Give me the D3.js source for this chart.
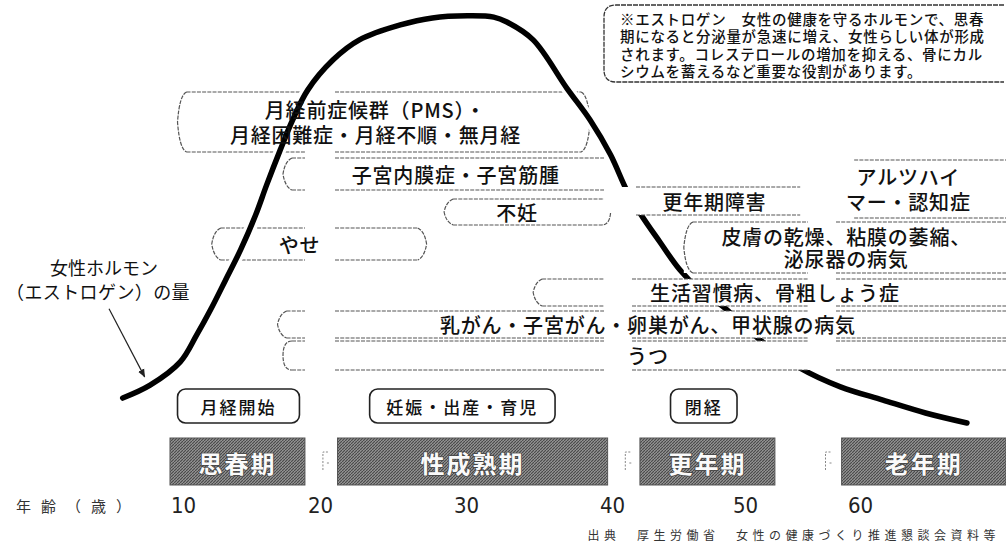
<!DOCTYPE html>
<html>
<head>
<meta charset="utf-8">
<script src="https://cdn.jsdelivr.net/npm/d3@7"></script>
<style>
  body { margin: 0; background: #fff; }
  svg { display: block; font-family: "Noto Sans CJK JP", sans-serif; }
</style>
</head>
<body>
<div id="chart"></div>
<script>
// female hormone (estrogen) level across a woman's life, with related health issues

const ageTicks = [10, 20, 30, 40, 50, 60];

// hormone curve (age, relative level 0-100)
const hormoneAge   = [5.6, 7.6, 9.8, 11.0, 12.0, 13.1, 14.2, 15.3, 16.1, 17.1, 18.0, 19.1, 20.9, 22.7, 25.5, 27.7, 30.1, 31.9, 32.8, 34.6, 36.9, 38.5, 39.9, 41.1, 42.1, 43.6, 45.1, 46.6, 48.4, 51.3, 54.8, 58.3, 62.0, 65.7, 69.3];
const hormoneLevel = [7.7, 10.8, 16.4, 22.9, 28.9, 36.1, 43.4, 51.8, 59.0, 67.5, 74.7, 81.9, 89.2, 94.0, 97.6, 99.3, 99.8, 99.5, 98.3, 94.0, 82.4, 74.7, 66.3, 57.8, 52.3, 45.3, 38.6, 33.7, 29.6, 21.7, 14.9, 10.4, 7.2, 4.1, 1.7];

// life stages
const phaseNames = ['思春期', '性成熟期', '更年期', '老年期'];
const phaseFrom  = [9.05, 21.2, 42.1, 58.4];
const phaseTo    = [18.9, 39.7, 52.6, 72.7];
const phaseGaps  = [20.2, 41.0, 57.0];

// life events
const eventNames = ['月経開始', '妊娠・出産・育児', '閉経'];
const eventFrom  = [9.6, 23.4, 44.4];
const eventTo    = [18.5, 36.1, 49.4];

// health issues by age span
const issueLines = [
  ['月経前症候群（PMS）・', '月経困難症・月経不順・無月経'],
  ['子宮内膜症・子宮筋腫'],
  ['不妊'],
  ['やせ'],
  ['更年期障害'],
  ['アルツハイ', 'マー・認知症'],
  ['皮膚の乾燥、粘膜の萎縮、', '泌尿器の病気'],
  ['生活習慣病、骨粗しょう症'],
  ['乳がん・子宮がん・卵巣がん、甲状腺の病気'],
  ['うつ']
];
const issueFrom     = [9.6, 17.3, 28.5, 12.1, 40.6, 58.1, 45.4, 34.6, 16.9, 17.3];
const issueTo       = [38.5, 39.7, 39.9, 27.3, 54.8, 72.7, 72.7, 72.7, 72.7, 72.7];
const issueLabelAge = [23.8, 29.3, 33.5, 18.5, 47.7, 64.2, 58.8, 52.6, 42.7, 42.7];

const noteLines = [
  '※エストロゲン　女性の健康を守るホルモンで、思春',
  '期になると分泌量が急速に増え、女性らしい体が形成',
  'されます。コレステロールの増加を抑える、骨にカル',
  'シウムを蓄えるなど重要な役割があります。'
];
const curveLabel = ['女性ホルモン', '（エストロゲン）の量'];
const axisTitle = '年齢（歳）';
const sourceText = '出典　厚生労働省　女性の健康づくり推進懇談会資料等';

// layout
const W = 1006, H = 545;
const issueRows = [[92, 152], [158, 190], [199, 225], [228, 260], [187, 215], [160, 218], [222, 273], [279, 306], [311, 338], [341, 370]];
const issueEnds = [['angle', 'angle'], ['angle', 'open'], ['angle', 'hook'], ['angle', 'angle'], ['open', 'open'], ['open', 'open'], ['angle', 'open'], ['angle', 'open'], ['angle', 'open'], ['round', 'open']];
const issueOpaque = [false, false, false, false, true, true, true, true, true, true];
const columnGaps = [[305, 335], [604, 632], [808, 836]];
const LINE = '#555';

const x = d3.scaleLinear()
  .domain([0, 10, 20, 30, 40, 50, 60, 80])
  .range([46, 183, 320, 466, 612, 745, 860, 1090]);
const y = d3.scaleLinear().domain([0, 100]).range([430, 15]);

const svg = d3.select('#chart').append('svg')
  .attr('width', W)
  .attr('height', H);

const defs = svg.append('defs');
const hatch = defs.append('pattern')
  .attr('id', 'hatch')
  .attr('width', 3).attr('height', 3)
  .attr('patternUnits', 'userSpaceOnUse');
hatch.append('rect').attr('width', 3).attr('height', 3).attr('fill', '#939393');
hatch.append('path').attr('d', 'M0,3L3,0').attr('stroke', '#474747').attr('stroke-width', 1.1);

defs.append('marker')
  .attr('id', 'arrow')
  .attr('viewBox', '0 0 10 10')
  .attr('refX', 9).attr('refY', 5)
  .attr('markerWidth', 7).attr('markerHeight', 7)
  .attr('orient', 'auto')
  .append('path').attr('d', 'M0,1L10,5L0,9Z').attr('fill', '#222');

// note box top right
const note = svg.append('g');
note.append('path')
  .attr('d', 'M1004,5H616Q604,5 604,17V70Q604,82 616,82H1004')
  .attr('fill', 'none')
  .attr('stroke', '#333')
  .attr('stroke-width', 1.3)
  .attr('stroke-dasharray', '5 1');
note.selectAll('text')
  .data(noteLines)
  .enter().append('text')
  .attr('x', 620)
  .attr('y', (d, i) => 18 + i * 17.5)
  .attr('dominant-baseline', 'central')
  .attr('font-size', 14.5)
  .attr('font-weight', 500)
  .attr('letter-spacing', 0.7)
  .attr('fill', '#111')
  .text(d => d);

// health issue boxes
function hsegs(a, b, yy) {
  let segs = [[a, b]];
  columnGaps.forEach(([g0, g1]) => {
    segs = segs.flatMap(([s, e]) => {
      if (g1 <= s || g0 >= e) return [[s, e]];
      const out = [];
      if (g0 > s) out.push([s, g0]);
      if (g1 < e) out.push([g1, e]);
      return out;
    });
  });
  return segs.map(([s, e]) => `M${s},${yy}H${e}`).join('');
}

function outline(i) {
  const x0 = x(issueFrom[i]), x1 = Math.min(x(issueTo[i]), W + 2);
  const [y0, y1] = issueRows[i];
  const m = (y0 + y1) / 2, n = 9;
  const [l, r] = issueEnds[i];
  const lx = l === 'open' ? x0 + 16 : x0 + n;
  const rx = r === 'angle' ? x1 - n : x1;
  let p = hsegs(lx, rx, y0) + hsegs(lx, rx, y1);
  if (l === 'angle') p += `M${x0 + n},${y0}Q${x0 + 2},${y0 + 3} ${x0},${m}Q${x0 + 2},${y1 - 3} ${x0 + n},${y1}`;
  if (l === 'round') p += `M${x0 + n},${y0}Q${x0},${y0} ${x0},${m}Q${x0},${y1} ${x0 + n},${y1}`;
  if (r === 'angle') p += `M${x1 - n},${y0}Q${x1 - 2},${y0 + 3} ${x1},${m}Q${x1 - 2},${y1 - 3} ${x1 - n},${y1}`;
  if (r === 'hook') p += `M${x1},${y1 - 12}Q${x1 - 1},${y1} ${x1 - n},${y1}`;
  return p;
}
function area(i) {
  const x0 = x(issueFrom[i]), x1 = Math.min(x(issueTo[i]), W + 2);
  const [y0, y1] = issueRows[i];
  return `M${x0},${y0}H${x1}V${y1}H${x0}Z`;
}

const idx = d3.range(issueLines.length);

function drawBoxes(list) {
  const g = svg.append('g');
  g.selectAll('path.fill')
    .data(list.filter(i => issueOpaque[i]))
    .enter().append('path')
    .attr('class', 'fill')
    .attr('d', area)
    .attr('fill', '#fff');
  g.selectAll('path.edge')
    .data(list)
    .enter().append('path')
    .attr('class', 'edge')
    .attr('d', outline)
    .attr('fill', 'none')
    .attr('stroke', LINE)
    .attr('stroke-width', 1.2)
    .attr('stroke-dasharray', '4 1.2');
}

drawBoxes(idx.filter(i => !issueOpaque[i]));

// hormone curve
const curvePts = hormoneAge.map((a, i) => [a, hormoneLevel[i]]);
const line = d3.line()
  .x(d => x(d[0]))
  .y(d => y(d[1]))
  .curve(d3.curveCatmullRom.alpha(0.5));
svg.append('path')
  .datum(curvePts)
  .attr('d', line)
  .attr('fill', 'none')
  .attr('stroke', '#fff')
  .attr('stroke-width', 12);
svg.append('path')
  .datum(curvePts)
  .attr('d', line)
  .attr('fill', 'none')
  .attr('stroke', '#000')
  .attr('stroke-width', 5.5)
  .attr('stroke-linecap', 'round');

drawBoxes(idx.filter(i => issueOpaque[i]));

// issue labels
const labels = svg.append('g')
  .attr('font-size', 20)
  .attr('font-weight', 500)
  .attr('letter-spacing', 0.8)
  .attr('fill', '#111')
  .attr('text-anchor', 'middle');
idx.forEach(i => {
  const [y0, y1] = issueRows[i];
  const n = issueLines[i].length;
  const step = n > 1 ? (y1 - y0) / (n + 0.35) : 0;
  labels.append('g').selectAll('text')
    .data(issueLines[i])
    .enter().append('text')
    .attr('x', x(issueLabelAge[i]))
    .attr('y', (d, j) => n > 1 ? (y0 + y1) / 2 + (j - (n - 1) / 2) * step : (y0 + y1) / 2)
    .attr('dominant-baseline', 'central')
    .text(d => d);
});

// curve label + arrow
svg.append('text')
  .attr('x', 104).attr('y', 267)
  .attr('text-anchor', 'middle')
  .attr('dominant-baseline', 'central')
  .attr('font-size', 18)
  .attr('fill', '#111')
  .text(curveLabel[0]);
svg.append('text')
  .attr('x', 6).attr('y', 291)
  .attr('dominant-baseline', 'central')
  .attr('font-size', 18)
  .attr('letter-spacing', 0.4)
  .attr('fill', '#111')
  .text(curveLabel[1]);
svg.append('line')
  .attr('x1', x(4.6)).attr('y1', y(29.2))
  .attr('x2', x(7.2)).attr('y2', y(12.8))
  .attr('stroke', '#222')
  .attr('stroke-width', 1.2)
  .attr('marker-end', 'url(#arrow)');

// life event boxes
const ev = svg.append('g').selectAll('g')
  .data(eventNames)
  .enter().append('g');
ev.append('rect')
  .attr('x', (d, i) => x(eventFrom[i]))
  .attr('y', 389)
  .attr('width', (d, i) => x(eventTo[i]) - x(eventFrom[i]))
  .attr('height', 34)
  .attr('rx', 8)
  .attr('fill', '#fff')
  .attr('stroke', '#222')
  .attr('stroke-width', 1.6);
ev.append('text')
  .attr('x', (d, i) => (x(eventFrom[i]) + x(eventTo[i])) / 2)
  .attr('y', 406)
  .attr('text-anchor', 'middle')
  .attr('dominant-baseline', 'central')
  .attr('font-size', 17)
  .attr('font-weight', 500)
  .attr('letter-spacing', 2)
  .attr('fill', '#111')
  .text(d => d);

// life stage bars
const ph = svg.append('g').selectAll('g')
  .data(phaseNames)
  .enter().append('g');
ph.append('rect')
  .attr('x', (d, i) => x(phaseFrom[i]))
  .attr('y', 438)
  .attr('width', (d, i) => Math.min(x(phaseTo[i]), W) - x(phaseFrom[i]))
  .attr('height', 47)
  .attr('fill', 'url(#hatch)')
  .attr('stroke', '#555')
  .attr('stroke-width', 1);
ph.append('text')
  .attr('x', (d, i) => (x(phaseFrom[i]) + Math.min(x(phaseTo[i]), W)) / 2)
  .attr('y', 462)
  .attr('text-anchor', 'middle')
  .attr('dominant-baseline', 'central')
  .attr('font-size', 24)
  .attr('font-weight', 'bold')
  .attr('letter-spacing', 2)
  .attr('fill', '#fafafa')
  .attr('stroke', '#444')
  .attr('stroke-width', 1.5)
  .attr('paint-order', 'stroke')
  .text(d => d);

svg.append('g').selectAll('path')
  .data(phaseGaps)
  .enter().append('path')
  .attr('d', d => `M${x(d) + 5},452H${x(d)}V470M${x(d) + 4},463h3`)
  .attr('fill', 'none')
  .attr('stroke', '#888')
  .attr('stroke-width', 1)
  .attr('stroke-dasharray', '2 1.5');

// age axis
const axis = svg.append('g').attr('transform', 'translate(0,505)');
axis.call(d3.axisBottom(x).tickValues(ageTicks).tickSize(0).tickPadding(0))
  .call(g => g.select('.domain').remove());
axis.selectAll('text')
  .attr('y', 0)
  .attr('dy', null)
  .attr('dominant-baseline', 'central')
  .attr('font-family', '"Liberation Sans Narrow", "DejaVu Sans Condensed", sans-serif')
  .attr('font-size', 22)
  .attr('fill', '#222');
svg.append('text')
  .attr('x', 16).attr('y', 505)
  .attr('dominant-baseline', 'central')
  .attr('font-size', 15)
  .attr('letter-spacing', 10)
  .attr('fill', '#333')
  .text(axisTitle);

// source
svg.append('text')
  .attr('x', 1000).attr('y', 534)
  .attr('text-anchor', 'end')
  .attr('dominant-baseline', 'central')
  .attr('font-size', 12)
  .attr('letter-spacing', 4.5)
  .attr('fill', '#333')
  .text(sourceText);
</script>
</body>
</html>
